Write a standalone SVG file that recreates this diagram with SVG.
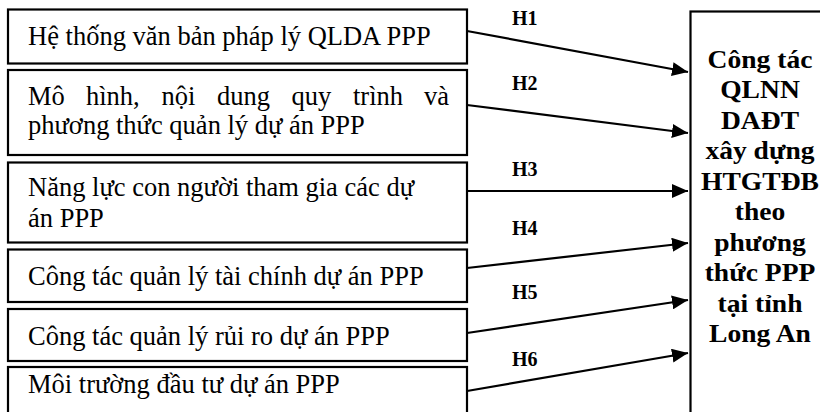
<svg xmlns="http://www.w3.org/2000/svg" width="820" height="412" viewBox="0 0 820 412">
  <style>
    .box { fill: #fff; stroke: #000; stroke-width: 2.2; }
    .txt { font-family: "Liberation Serif", "Times New Roman", serif; font-size: 26.5px; fill: #000; }
    .goal { font-family: "Liberation Serif", "Times New Roman", serif; font-size: 26px; font-weight: bold; fill: #000; text-anchor: middle; }
    .lbl { font-family: "Liberation Serif", "Times New Roman", serif; font-size: 20px; font-weight: bold; fill: #000; }
    .edge { stroke: #000; stroke-width: 2.2; fill: none; marker-end: url(#arrow); }
  </style>
  <defs>
    <marker id="arrow" markerUnits="userSpaceOnUse" markerWidth="16" markerHeight="14" refX="16" refY="7" orient="auto">
      <path d="M0,0 L16,7 L0,14 Z" fill="#000"/>
    </marker>
  </defs>

  <g id="n1">
    <rect class="box" x="8" y="9.5" width="459" height="54"/>
    <text class="txt" x="28" y="45">Hệ thống văn bản pháp lý QLDA PPP</text>
  </g>
  <g id="n2">
    <rect class="box" x="8" y="70" width="459" height="85"/>
    <!-- justified first line: each word placed on its own -->
    <text class="txt" y="105"><tspan x="28">Mô</tspan><tspan x="86">hình,</tspan><tspan x="161.5">nội</tspan><tspan x="217">dung</tspan><tspan x="291.5">quy</tspan><tspan x="353">trình</tspan><tspan x="424">và</tspan></text>
    <text class="txt" x="28" y="134">phương thức quản lý dự án PPP</text>
  </g>
  <g id="n3">
    <rect class="box" x="8" y="162.5" width="459" height="80"/>
    <text class="txt" x="28" y="196">Năng lực con người tham gia các dự</text>
    <text class="txt" x="28" y="227">án PPP</text>
  </g>
  <g id="n4">
    <rect class="box" x="8" y="249.5" width="459" height="52.5"/>
    <text class="txt" x="28" y="285">Công tác quản lý tài chính dự án PPP</text>
  </g>
  <g id="n5">
    <rect class="box" x="8" y="309" width="459" height="52"/>
    <text class="txt" x="28" y="345">Công tác quản lý rủi ro dự án PPP</text>
  </g>
  <g id="n6">
    <rect class="box" x="8" y="367" width="459" height="60"/>
    <text class="txt" x="28" y="393">Môi trường đầu tư dự án PPP</text>
  </g>

  <g id="goal">
    <rect class="box" x="690.5" y="11.5" width="140" height="420"/>
    <g transform="translate(760 0) scale(1.06 1) translate(-760 0)">
      <text class="goal" x="760" y="68">Công tác</text>
      <text class="goal" x="760" y="98.5">QLNN</text>
      <text class="goal" x="760" y="129">DAĐT</text>
      <text class="goal" x="760" y="159.5">xây dựng</text>
      <text class="goal" x="760" y="190">HTGTĐB</text>
      <text class="goal" x="760" y="220.5">theo</text>
      <text class="goal" x="760" y="251">phương</text>
      <text class="goal" x="760" y="281.5">thức PPP</text>
      <text class="goal" x="760" y="312">tại tỉnh</text>
      <text class="goal" x="760" y="342.5">Long An</text>
    </g>
  </g>

  <g id="connectors">
    <line class="edge" x1="467" y1="31" x2="688" y2="72"/>
    <line class="edge" x1="467" y1="105" x2="688" y2="133"/>
    <line class="edge" x1="467" y1="191" x2="688" y2="191"/>
    <line class="edge" x1="467" y1="268" x2="688" y2="243"/>
    <line class="edge" x1="467" y1="333" x2="688" y2="300"/>
    <line class="edge" x1="467" y1="391" x2="688" y2="353"/>
    <text class="lbl" x="512" y="25">H1</text>
    <text class="lbl" x="512" y="90">H2</text>
    <text class="lbl" x="512" y="176">H3</text>
    <text class="lbl" x="512" y="235">H4</text>
    <text class="lbl" x="512" y="299">H5</text>
    <text class="lbl" x="512" y="366">H6</text>
  </g>
</svg>
